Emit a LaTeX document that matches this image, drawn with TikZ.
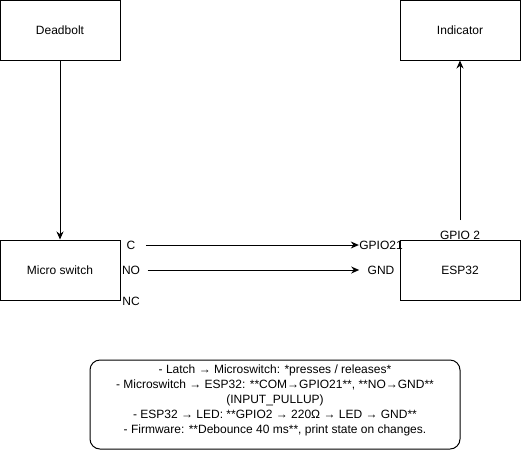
\documentclass[tikz,border=0pt]{standalone}
\usepackage{fontspec}
\setmainfont{Liberation Sans}
\usetikzlibrary{arrows.meta}
\begin{document}
\begin{tikzpicture}[x=1pt,y=-1pt,line width=1pt,font=\fontsize{12}{15}\selectfont,
    box/.style={draw,minimum width=120pt,minimum height=60pt,inner sep=0pt},
    pinlabel/.style={inner sep=0pt},
    arr/.style={-{Stealth[length=8pt,width=7pt]}}]
        \useasboundingbox (0,0) rectangle (521,451);

        \node[box] (deadbolt) at (60,30) {Deadbolt};
        \node[box] (indicator) at (460,30) {Indicator};
        \node[box] (switch) at (60,270) {Micro switch};
        \node[box] (esp) at (460,270) {ESP32};

        \node[pinlabel] (pinC) at (131,245) {C};
        \node[pinlabel] (pinNO) at (131,270) {NO};
        \node[pinlabel] (pinNC) at (131,301) {NC};
        \node[pinlabel] (gpioA) at (381,245) {GPIO21};
        \node[pinlabel] (gnd) at (381,270) {GND};
        \node[pinlabel] (gpioB) at (460,235) {GPIO 2};
        \coordinate (ledout) at (460,220);

        \draw[arr] (deadbolt.south)--(switch.north);
        \draw[arr] ([xshift=10pt]pinC.east)--(gpioA.west);
        \draw[arr] ([xshift=7pt]pinNO.east)--([xshift=-8pt]gnd.west);
        \draw[arr] (ledout)--(indicator.south);

        \node[draw,rounded corners=10pt,minimum width=370pt,minimum height=89pt] (notes) at (275,404.5) {};
        \node[align=center,inner sep=0pt] (notetext) at ([yshift=4.5pt]notes.center)
            {- Latch → Microswitch: *presses / releases*\\
             - Microswitch → ESP32: **COM→GPIO21**, **NO→GND**\\
             (INPUT\_PULLUP)\\
             - ESP32 → LED: **GPIO2 → 220Ω → LED → GND**\\
             - Firmware: **Debounce 40 ms**, print state on changes.};
\end{tikzpicture}
\end{document}
